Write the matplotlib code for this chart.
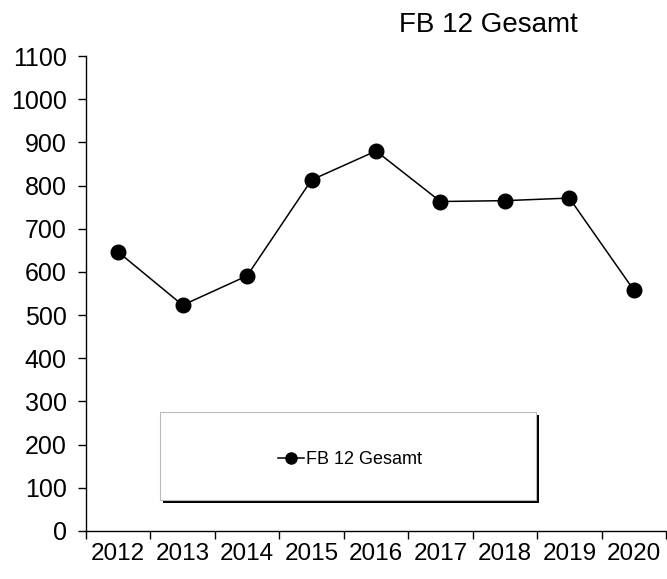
import matplotlib.pyplot as plt
import matplotlib.patches as patches
from matplotlib.lines import Line2D

years = ["2012", "2013", "2014", "2015", "2016", "2017", "2018", "2019", "2020"]
gesamt = [646, 523, 591, 813, 880, 763, 765, 771, 558]
series_name = "FB 12 Gesamt"

plt.rcParams['font.family'] = ['Liberation Sans', 'DejaVu Sans']

W, H = 667, 579
fig = plt.figure(figsize=(W / 100, H / 100), dpi=100)
ax = fig.add_axes([86 / W, (H - 531) / H, (666 - 86) / W, (531 - 56) / H])

x = list(range(len(years)))
ax.plot(x, gesamt, color='black', lw=1.1, marker='o', ms=10.5,
        markerfacecolor='black', markeredgecolor='black')

ax.set_ylim(0, 1100)
ax.set_yticks(range(0, 1101, 100))
ax.set_xlim(-0.5, len(years) - 0.5)
ax.set_xticks([i - 0.5 for i in range(len(years) + 1)])
ax.set_xticklabels([])
ax.set_xticks(x, minor=True)
ax.set_xticklabels(years, minor=True)

ax.tick_params(axis='y', length=6, width=1, labelsize=18, pad=8)
ax.tick_params(axis='x', which='major', length=6, width=1)
ax.tick_params(axis='x', which='minor', length=0, labelsize=17.5, pad=9)

for s in ['top', 'right']:
    ax.spines[s].set_visible(False)
for s in ['left', 'bottom']:
    ax.spines[s].set_linewidth(1)

fig.text(488 / W, 1 - 25 / H, series_name, ha='center', va='center', fontsize=20)

# legend box with drop shadow
bx0, by0, bx1, by1 = 160, 412, 536, 500
shadow = patches.Rectangle(((bx0 + 3) / W, (H - by1 - 3) / H), (bx1 - bx0) / W, (by1 - by0) / H,
                           transform=fig.transFigure, facecolor='black', edgecolor='none')
box = patches.Rectangle((bx0 / W, (H - by1) / H), (bx1 - bx0) / W, (by1 - by0) / H,
                        transform=fig.transFigure, facecolor='white', edgecolor='#bbbbbb', lw=0.8)
fig.patches.extend([shadow, box])

handle = Line2D([], [], color='black', lw=1.1, marker='o', ms=8)
fig.legend([handle], [series_name], loc='center',
           bbox_to_anchor=(350 / W, 1 - 460 / H), frameon=False, fontsize=13,
           handlelength=1.4, handletextpad=0.1)

fig.savefig('out.png', dpi=100)
